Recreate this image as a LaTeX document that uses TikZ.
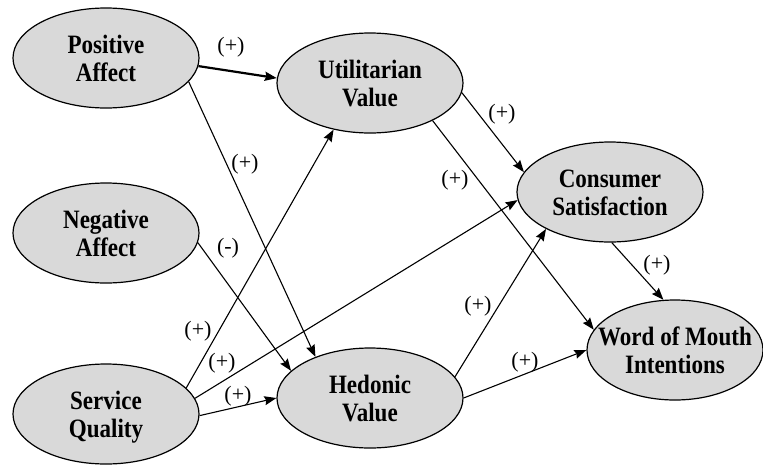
\documentclass[tikz,border=0pt]{standalone}
\usepackage{fontspec}
\setmainfont{Liberation Serif}
\usetikzlibrary{shapes.geometric,arrows.meta}
\definecolor{constructfill}{RGB}{217,217,217}
% two centred lines, set slightly narrow; baseline at the first line
\newcommand\twolines[2]{\scalebox{0.87}[1]{\begin{tabular}[t]{@{}c@{}}#1\\#2\end{tabular}}}
\begin{document}
\begin{tikzpicture}[x=1pt,y=-1pt,
  construct/.style={ellipse,draw=black,line width=1.2pt,fill=constructfill,
    minimum width=186pt,minimum height=100pt,inner sep=0pt},
  constructtext/.style={inner sep=0pt,anchor=base,yshift=4.7pt,
    font=\fontsize{26.5}{28.5}\selectfont\bfseries},
  signlbl/.style={inner sep=0pt,font=\fontsize{22}{24}\selectfont},
  link/.style={line width=1.1pt,-{Stealth[length=12pt,width=9pt,inset=1.5pt]}},
  stronglink/.style={link,line width=2.2pt}]
\useasboundingbox (0,0) rectangle (763,464);

% constructs
\node[construct] (pa) at (106,58) {};
\node[construct] (na) at (106,233) {};
\node[construct] (sq) at (106,414) {};
\node[construct] (uv) at (370,83) {};
\node[construct] (hv) at (370,398) {};
\node[construct] (cs) at (610,192) {};
\node[construct,minimum width=176pt] (wom) at (675,350) {};

\node[constructtext] (pa-t) at (pa) {\twolines{Positive}{Affect}};
\node[constructtext] (na-t) at (na) {\twolines{Negative}{Affect}};
\node[constructtext] (sq-t) at (sq) {\twolines{Service}{Quality}};
\node[constructtext] (uv-t) at (uv) {\twolines{Utilitarian}{Value}};
\node[constructtext] (hv-t) at (hv) {\twolines{Hedonic}{Value}};
\node[constructtext] (cs-t) at (cs) {\twolines{Consumer}{Satisfaction}};
\node[constructtext] (wom-t) at (wom) {\twolines{Word of Mouth}{Intentions}};

% hypothesised paths
\draw[stronglink] (pa.-5) -- (uv.177);
\draw[link] (pa.-16) -- (hv.143);
\draw[link] (na.-6) -- (hv.161);
\draw[link] (sq.18) -- (uv.232);
\draw[link] (sq.10) -- (cs.185);
\draw[link] (sq.-1) -- (hv.180);
\draw[link] (uv.-6) -- (cs.167);
\draw[link] (uv.-31) -- (wom.166);
\draw[link] (cs.-88) -- (wom.103);
\draw[link] (hv.14) -- (cs.210);
\draw[link] (hv.0) -- (wom.180);

% signs of the paths
\node[signlbl] (s1) at (231,47) {(+)};
\node[signlbl] (s2) at (245,164) {(+)};
\node[signlbl] (s3) at (228,248) {(-)};
\node[signlbl] (s4) at (198,331) {(+)};
\node[signlbl] (s5) at (222,363) {(+)};
\node[signlbl] (s6) at (238,396) {(+)};
\node[signlbl] (s7) at (502,114) {(+)};
\node[signlbl] (s8) at (455,180) {(+)};
\node[signlbl] (s9) at (657,265) {(+)};
\node[signlbl] (s10) at (478,306) {(+)};
\node[signlbl] (s11) at (525,362) {(+)};
\end{tikzpicture}
\end{document}
